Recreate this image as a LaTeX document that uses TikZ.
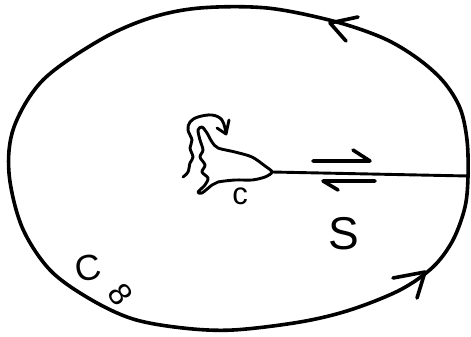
\documentclass[tikz,border=0pt]{standalone}
\usepackage{fontspec}
\setmainfont{Liberation Sans}
\begin{document}
\begin{tikzpicture}[x=1pt,y=-1pt,
  stroke/.style={line width=3.6pt,line cap=round,line join=round},
  thinstroke/.style={line width=2.9pt,line cap=round,line join=round},
  lab/.style={inner sep=0pt}]
\useasboundingbox (0,0) rectangle (471,337);
% outer contour C8
\draw[stroke] plot[smooth cycle, tension=0.55] coordinates {(267,8) (333,21) (383,38) (417,58) (443,81) (460,108) (467,140) (468,176) (465,207) (453,240) (433,267) (400,290) (350,310) (300,322) (233,330) (183,328) (133,319) (90,299) (50,270) (22,227) (9,173) (14,127) (43,80) (100,40) (150,18) (200,8)};
% arrowheads on contour
\draw[stroke] (358,17) -- (330,23) -- (346,41);
\draw[stroke] (393,278) -- (425,272) -- (417,298);
% cut
\coordinate (tip) at (272,172);
\coordinate (rim) at (468,176);
\draw[thinstroke] (tip) -- (rim);
% harpoons
\draw[stroke] (313,161) -- (370,161) -- (353,150);
\draw[stroke] (375,181) -- (323,181) -- (338,190);
% blob
\draw[thinstroke] plot[smooth cycle, tension=0.5] coordinates {(272,172) (265,166) (252,157) (235,152) (218,148) (212,142) (207,133) (202,127) (198,130) (200,140) (203,150) (200,157) (205,165) (202,172) (208,178) (205,185) (198,192) (202,193) (212,185) (218,182) (235,180) (252,180) (265,177)};
% curly arrow
\draw[thinstroke] plot[smooth, tension=0.6] coordinates {(183,177) (188,172) (190,163) (193,157) (190,148) (192,140) (188,130) (190,122) (198,117) (212,115) (222,120) (226,133)};
\draw[thinstroke] (229,120) -- (226,134) -- (217,128);
% labels
\node[lab,font=\fontsize{31}{31}\selectfont] (c) at (240,196) {c};
\node[lab,font=\fontsize{46}{46}\selectfont] (S) at (344,234) {S};
\node[lab,font=\fontsize{36}{36}\selectfont,rotate=10] (C) at (88,268) {C};
\node[lab,font=\fontsize{32}{32}\selectfont,rotate=-55] (inf) at (121,294) {8};
\end{tikzpicture}
\end{document}
